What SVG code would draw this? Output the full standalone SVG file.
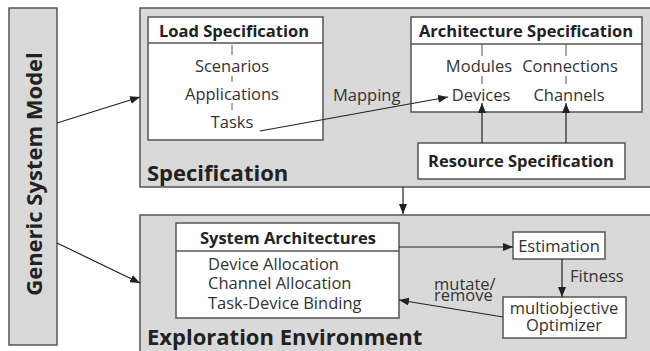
<svg xmlns="http://www.w3.org/2000/svg" width="650" height="351" viewBox="0 0 650 351">
<defs>
<style>
.gray{fill:#d9d9d9;stroke:#555;stroke-width:1.5}
.box{fill:#fff;stroke:#555;stroke-width:1.5}
.ln{stroke:#555;stroke-width:1.5;fill:none}
.tick{stroke:#555;stroke-width:1;fill:none}
.con{stroke:#222;stroke-width:1.2;fill:none;marker-end:url(#ah)}
text{font-family:"Open Sans","Noto Sans",sans-serif;fill:#333;font-size:16.5px}
.h{font-weight:bold;text-anchor:middle;fill:#222}
.t{text-anchor:middle}
.big{font-size:22px;font-weight:bold;fill:#222}
</style>
<marker id="ah" markerWidth="10" markerHeight="8" refX="10" refY="4" orient="auto" markerUnits="userSpaceOnUse">
<path d="M0,0 L10,4 L0,8 Z" fill="#222"/>
</marker>
</defs>
<g id="generic">
<rect class="gray" x="9" y="8" width="48" height="337"/>
<text class="big" transform="translate(42,174) rotate(-90)" text-anchor="middle">Generic System Model</text>
</g>
<g id="specification">
<rect class="gray" x="140" y="8" width="515" height="179"/>
<text class="big" x="147" y="181">Specification</text>
</g>
<g id="exploration">
<rect class="gray" x="140" y="215" width="515" height="140"/>
<text class="big" x="147" y="345">Exploration Environment</text>
</g>
<g id="load">
<rect class="box" x="148" y="17" width="175" height="123"/>
<line class="ln" x1="148" y1="43" x2="323" y2="43"/>
<text class="h" x="234" y="37">Load Specification</text>
<line class="tick" x1="232" y1="45" x2="232" y2="55"/>
<text class="t" x="232" y="72">Scenarios</text>
<line class="tick" x1="232" y1="76" x2="232" y2="82"/>
<text class="t" x="232" y="100">Applications</text>
<line class="tick" x1="232" y1="103" x2="232" y2="110"/>
<text class="t" x="232" y="128">Tasks</text>
</g>
<g id="architecture">
<rect class="box" x="411" y="17" width="231" height="95"/>
<line class="ln" x1="411" y1="44" x2="642" y2="44"/>
<text class="h" x="526" y="37">Architecture Specification</text>
<line class="tick" x1="482" y1="44" x2="482" y2="56"/>
<line class="tick" x1="566" y1="44" x2="566" y2="56"/>
<text class="t" x="479" y="72">Modules</text>
<text class="t" x="570" y="72">Connections</text>
<line class="tick" x1="482" y1="76" x2="482" y2="84"/>
<line class="tick" x1="566" y1="76" x2="566" y2="84"/>
<text class="t" x="481" y="101">Devices</text>
<text class="t" x="569" y="101">Channels</text>
</g>
<g id="resource">
<rect class="box" x="418" y="143" width="207" height="36"/>
<text class="h" x="521" y="167">Resource Specification</text>
</g>
<g id="sysarch">
<rect class="box" x="176" y="223" width="223" height="95"/>
<line class="ln" x1="176" y1="251" x2="399" y2="251"/>
<text class="h" x="288" y="244">System Architectures</text>
<text x="208" y="270">Device Allocation</text>
<text x="208" y="289">Channel Allocation</text>
<text x="208" y="309">Task-Device Binding</text>
</g>
<g id="estimation">
<rect class="box" x="513" y="232" width="92" height="27"/>
<text class="t" x="559" y="252">Estimation</text>
</g>
<g id="optimizer">
<rect class="box" x="503" y="297" width="123" height="41"/>
<text class="t" x="564" y="314">multiobjective</text>
<text class="t" x="564" y="331">Optimizer</text>
</g>
<g id="connectors">
<line class="con" x1="57" y1="123" x2="140" y2="97"/>
<line class="con" x1="57" y1="243" x2="140" y2="283"/>
<line class="con" x1="260" y1="131" x2="448" y2="97"/>
<text x="333" y="101">Mapping</text>
<line class="con" x1="482" y1="143" x2="482" y2="103"/>
<line class="con" x1="566" y1="143" x2="566" y2="103"/>
<line class="con" x1="403" y1="187" x2="403" y2="214"/>
<line class="con" x1="399" y1="247" x2="513" y2="247"/>
<line class="con" x1="562" y1="259" x2="562" y2="297"/>
<text x="570" y="282">Fitness</text>
<line class="con" x1="503" y1="317" x2="399" y2="300"/>
<text x="434" y="290">mutate/</text>
<text x="434" y="301">remove</text>
</g>
</svg>
